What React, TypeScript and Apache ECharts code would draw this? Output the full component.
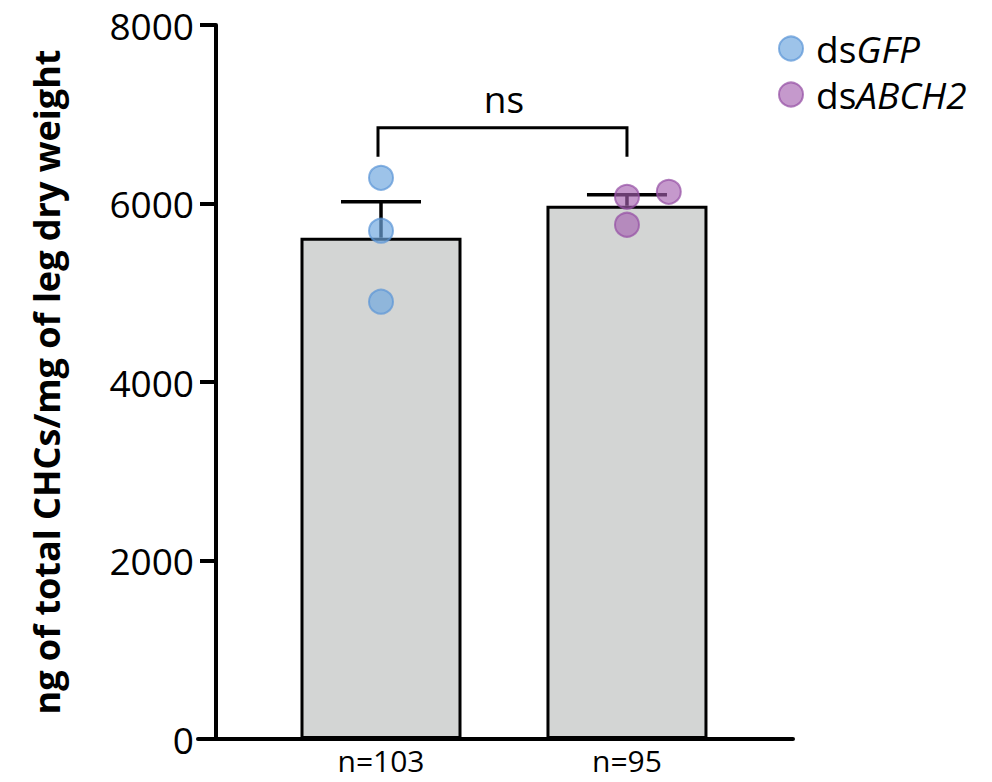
import React, { useEffect, useRef } from "react";
import * as echarts from "echarts";

const categories = ["n=103", "n=95"];
const groupNames = ["dsGFP", "dsABCH2"];
const barMeans = [5617, 5975];
const errorUpper = [6020, 6098];
const gfpPoints = [
  [0, 6288],
  [0, 5695],
  [0, 4900],
];
const abchPoints = [
  [1, 6075],
  [1.17, 6131],
  [1, 5762],
];
const yTicks = [0, 2000, 4000, 6000, 8000];
const bracket = { from: 0, to: 1, top: 6848, bottom: 6523, label: "ns", labelY: 7180 };

const FONT = "Open Sans";

export default function App() {
  const ref = useRef<HTMLDivElement>(null);
  useEffect(() => {
    document.body.style.margin = "0";
    if (!ref.current) return;
    const chart = echarts.init(ref.current, undefined, { renderer: "svg" });
    const option: any = {
      animation: false,
      backgroundColor: "#ffffff",
      grid: { left: 198, right: 199, top: 25, bottom: 43, containLabel: false },
      legend: {
        orient: "vertical",
        left: 778,
        top: 30,
        padding: 0,
        icon: "circle",
        itemWidth: 24,
        itemHeight: 24,
        itemGap: 9,
        data: groupNames,
        formatter: (name: string) => `{n|ds}{i|${name.slice(2)}}`,
        textStyle: {
          padding: [0, 0, 0, 8],
          rich: {
            n: { fontSize: 37, lineHeight: 40, fontFamily: FONT, color: "#000" },
            i: { fontSize: 37, lineHeight: 40, fontFamily: FONT, fontStyle: "italic", color: "#000" },
          },
        },
      },
      xAxis: {
        type: "value",
        min: -0.744,
        max: 1.675,
        splitLine: { show: false },
        axisLine: { show: true, onZero: false, lineStyle: { color: "#000", width: 4 } },
        axisTick: { show: false },
        axisLabel: {
          customValues: [0, 1],
          formatter: (v: number) => categories[Math.round(v)] ?? "",
          fontSize: 30,
          lineHeight: 30,
          fontFamily: FONT,
          color: "#000",
          margin: 6,
        },
      },
      yAxis: {
        type: "value",
        min: 0,
        max: 8000,
        interval: 2000,
        offset: -18,
        splitLine: { show: false },
        axisLine: { show: true, onZero: false, lineStyle: { color: "#000", width: 4 } },
        axisTick: { show: true, length: 16, lineStyle: { color: "#000", width: 4 } },
        axisLabel: {
          fontSize: 37,
          fontFamily: FONT,
          color: "#000",
          margin: 22,
          formatter: (v: number) => (yTicks.includes(v) ? String(v) : ""),
        },
        name: "ng of total CHCs/mg of leg dry weight",
        nameLocation: "middle",
        nameRotate: 90,
        nameGap: 152,
        nameTextStyle: { fontSize: 36, fontWeight: "bold", fontFamily: FONT, color: "#000" },
      },
      series: [
        {
          type: "bar",
          data: barMeans.map((m, i) => [i, m]),
          barWidth: 161,
          itemStyle: { color: "#d3d5d4", borderColor: "#000", borderWidth: 3 },
          z: 1,
        },
        {
          type: "custom",
          data: barMeans.map((m, i) => [i, m, errorUpper[i]]),
          z: 2,
          renderItem: (params: any, api: any) => {
            const x = api.value(0);
            const p0 = api.coord([x, api.value(1)]);
            const p1 = api.coord([x, api.value(2)]);
            const half = 40;
            const st = { stroke: "#000", lineWidth: 3.5 };
            return {
              type: "group",
              children: [
                { type: "line", shape: { x1: p0[0], y1: p0[1], x2: p1[0], y2: p1[1] }, style: st },
                { type: "line", shape: { x1: p1[0] - half, y1: p1[1], x2: p1[0] + half, y2: p1[1] }, style: st },
              ],
            };
          },
        },
        {
          type: "custom",
          data: [[bracket.from, bracket.to, bracket.top, bracket.bottom, bracket.labelY]],
          z: 2,
          renderItem: (params: any, api: any) => {
            const a = api.coord([api.value(0), api.value(2)]);
            const b = api.coord([api.value(1), api.value(2)]);
            const bottom = api.coord([api.value(0), api.value(3)])[1];
            const ly = api.coord([api.value(0), api.value(4)])[1];
            return {
              type: "group",
              children: [
                {
                  type: "polyline",
                  shape: { points: [[a[0] - 3, bottom], [a[0] - 3, a[1]], [b[0], b[1]], [b[0], bottom]] },
                  style: { stroke: "#000", lineWidth: 3, fill: "none" },
                },
                {
                  type: "text",
                  style: {
                    text: bracket.label,
                    x: (a[0] + b[0]) / 2,
                    y: ly,
                    align: "center",
                    verticalAlign: "middle",
                    fontSize: 37,
                    fontFamily: FONT,
                    fill: "#000",
                  },
                },
              ],
            };
          },
        },
        {
          name: "dsGFP",
          type: "scatter",
          data: gfpPoints,
          symbolSize: 24,
          z: 3,
          itemStyle: { color: "rgba(111,166,222,0.85)", borderColor: "rgba(91,150,215,0.9)", borderWidth: 2 },
        },
        {
          name: "dsABCH2",
          type: "scatter",
          data: abchPoints,
          symbolSize: 24,
          z: 3,
          itemStyle: { color: "rgba(165,95,175,0.8)", borderColor: "rgba(150,80,165,0.9)", borderWidth: 2 },
        },
      ],
    };
    chart.setOption(option);
    return () => chart.dispose();
  }, []);
  return <div ref={ref} style={{ width: 992, height: 782 }} />;
}
